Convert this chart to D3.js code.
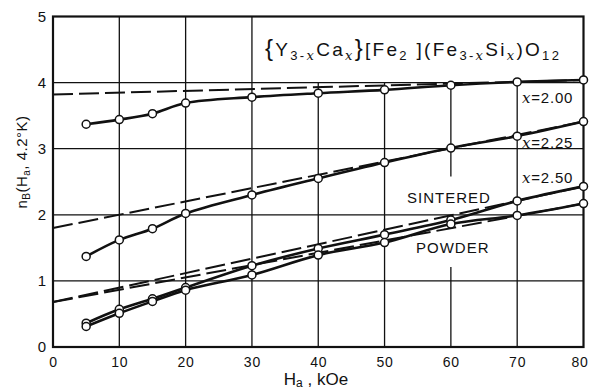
<!DOCTYPE html>
<html><head><meta charset="utf-8">
<script src="https://cdn.jsdelivr.net/npm/d3@7"></script>
<style>
body{margin:0;background:#fff;}
text{font-family:"Liberation Sans",Arial,sans-serif;fill:#111;}
</style></head>
<body><svg id="c" width="591" height="390"></svg>
<script>
// ---- data ----
const fieldH = [5, 10, 15, 20, 30, 40, 50, 60, 70, 80];           // Ha, kOe
const nB_x200 = [3.37, 3.44, 3.53, 3.69, 3.78, 3.84, 3.89, 3.96, 4.01, 4.04];
const nB_x225 = [1.37, 1.62, 1.79, 2.02, 2.30, 2.55, 2.79, 3.01, 3.19, 3.41];
const nB_x250_sintered = [0.36, 0.57, 0.73, 0.90, 1.23, 1.49, 1.70, 1.92, 2.21, 2.43];
const nB_x250_powder   = [0.31, 0.51, 0.69, 0.86, 1.09, 1.39, 1.58, 1.86, 1.99, 2.17];
// dashed linear extrapolations [H, nB]
const dash_x200 = [[0, 3.82], [80, 4.04]];
const dash_x225 = [[0, 1.80], [80, 3.41]];
const dash_x250_sintered = [[0, 0.68], [80, 2.43]];
const dash_x250_powder   = [[0, 0.68], [80, 2.17]];
const xTicks = [0, 10, 20, 30, 40, 50, 60, 70, 80];
const yTicks = [0, 1, 2, 3, 4, 5];
const seriesLabels = ["2.00", "2.25", "2.50"];

const svg = d3.select("#c");
const x = d3.scaleLinear().domain([0, 80]).range([53, 583.5]);
const y = d3.scaleLinear().domain([0, 5]).range([347, 16.5]);

// grid
const g = svg.append("g").attr("stroke", "#111").attr("stroke-width", 1.3);
[10, 20, 30].forEach(v => g.append("line").attr("x1", x(v)).attr("x2", x(v)).attr("y1", y(0)).attr("y2", y(5)));
[40, 50, 70].forEach(v => g.append("line").attr("x1", x(v)).attr("x2", x(v)).attr("y1", y(0)).attr("y2", y(4)));
[[0, 1.21], [2.58, 4]].forEach(s => g.append("line").attr("x1", x(60)).attr("x2", x(60)).attr("y1", y(s[0])).attr("y2", y(s[1])));
[1, 2, 3, 4].forEach(v => g.append("line").attr("x1", x(0)).attr("x2", x(80)).attr("y1", y(v)).attr("y2", y(v)));

// frame
svg.append("rect").attr("x", x(0)).attr("y", y(5)).attr("width", x(80) - x(0)).attr("height", y(0) - y(5))
  .attr("fill", "none").attr("stroke", "#111").attr("stroke-width", 2.2);

// axes (labels only)
const xAxis = d3.axisBottom(x).tickValues(xTicks).tickFormat(d3.format("d")).tickSize(0).tickPadding(9);
const xg = svg.append("g").attr("transform", `translate(0,${y(0) + 1})`).call(xAxis);
xg.select(".domain").remove();
xg.selectAll("text").attr("font-size", 14).attr("letter-spacing", 0.8)
  .attr("font-family", "DejaVu Sans, sans-serif").attr("fill", "#111")
  .attr("dx", d => d === 80 ? -4 : 0);
const yAxis = d3.axisLeft(y).tickValues(yTicks).tickFormat(d3.format("d")).tickSize(0).tickPadding(7);
const yg = svg.append("g").attr("transform", `translate(${x(0)},0)`).call(yAxis);
yg.select(".domain").remove();
yg.selectAll("text").attr("font-size", 15).attr("font-family", "DejaVu Sans, sans-serif").attr("fill", "#111");

// dashed lines
const lineXY = d3.line().x(d => x(d[0])).y(d => y(d[1]));
[dash_x200, dash_x225, dash_x250_sintered, dash_x250_powder].forEach(d =>
  svg.append("path").attr("d", lineXY(d)).attr("fill", "none").attr("stroke", "#111")
    .attr("stroke-width", 2).attr("stroke-dasharray", "20,6"));

// solid curves + circles
const curve = d3.line().x((d, i) => x(fieldH[i])).y(d => y(d)).curve(d3.curveCatmullRom.alpha(0.5));
[nB_x200, nB_x225, nB_x250_sintered, nB_x250_powder].forEach(vals => {
  svg.append("path").attr("d", curve(vals)).attr("fill", "none").attr("stroke", "#111").attr("stroke-width", 2.6);
});
[nB_x200, nB_x225, nB_x250_sintered, nB_x250_powder].forEach(vals => {
  svg.append("g").selectAll("circle").data(vals).join("circle")
    .attr("cx", (d, i) => x(fieldH[i])).attr("cy", d => y(d)).attr("r", 4)
    .attr("fill", "#fff").attr("stroke", "#111").attr("stroke-width", 1.5);
});

// series labels
const lab = svg.append("g");
const labY = [103, 148, 183];
seriesLabels.forEach((s, i) => {
  const t = lab.append("text").attr("x", 522).attr("y", labY[i]).attr("font-size", 15).attr("letter-spacing", 0.8);
  t.append("tspan").text("x").attr("font-family", "DejaVu Serif, serif").attr("font-style", "italic");
  t.append("tspan").text("=" + s);
});
svg.append("text").attr("x", 407).attr("y", 203).attr("font-size", 15).attr("letter-spacing", 1).text("SINTERED");
svg.append("text").attr("x", 416).attr("y", 253).attr("font-size", 15).attr("letter-spacing", 1).text("POWDER");

// title formula
const tt = svg.append("text").attr("x", 265).attr("y", 56).attr("font-size", 19)
  .attr("font-family", "DejaVu Sans, sans-serif").attr("letter-spacing", 2.3);
function part(txt, opt = {}) {
  const s = tt.append("tspan").text(txt);
  if (opt.sub) s.attr("font-size", 13);
  if (opt.dy !== undefined) s.attr("dy", opt.dy);
  if (opt.it) s.attr("font-family", "DejaVu Serif, serif").attr("font-style", "italic");
  if (opt.big) s.attr("font-size", 24);
  return s;
}
part("{", {big: true}); part("Y");
part("3-", {sub: true, dy: 4}); part("x", {sub: true, it: true, dy: 0});
part("Ca", {dy: -4}); part("x", {sub: true, it: true, dy: 4});
part("}", {big: true, dy: -4}); part("[Fe");
part("2", {sub: true, dy: 4}); part(" ](Fe", {dy: -4});
part("3-", {sub: true, dy: 4}); part("x", {sub: true, it: true, dy: 0});
part("Si", {dy: -4}); part("x", {sub: true, it: true, dy: 4});
part(")O", {dy: -4}); part("12", {sub: true, dy: 4});

// y label
const yl = svg.append("text").attr("transform", "translate(27,162) rotate(-90)")
  .attr("text-anchor", "middle").attr("font-size", 15).attr("letter-spacing", 0.5);
yl.append("tspan").text("n");
yl.append("tspan").text("B").attr("font-size", 10).attr("dy", 3);
yl.append("tspan").text("(H").attr("dy", -3);
yl.append("tspan").text("a").attr("font-size", 10).attr("dy", 3);
yl.append("tspan").text(", 4.2°K)").attr("dy", -3);

// x label
const xl = svg.append("text").attr("x", 316).attr("y", 385).attr("text-anchor", "middle").attr("font-size", 17);
xl.append("tspan").text("H");
xl.append("tspan").text("a").attr("font-size", 12).attr("dy", 2);
xl.append("tspan").text(" , kOe").attr("dy", -2);
</script></body></html>
